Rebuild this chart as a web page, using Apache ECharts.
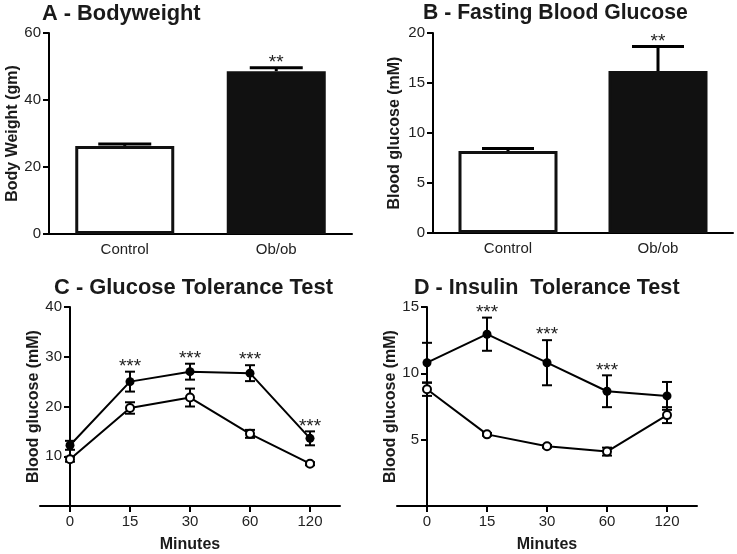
<!DOCTYPE html>
<html>
<head>
<meta charset="utf-8">
<script src="https://cdn.jsdelivr.net/npm/echarts@6/dist/echarts.min.js"></script>
<style>
html,body{margin:0;padding:0;background:#fff;}
#chart{width:737px;height:554px;}
</style>
</head>
<body>
<div id="chart"></div>
<script>
// ---- data ----
const barCategories = ['Control', 'Ob/ob'];
const bodyweightMean = [26.3, 48.6];
const bodyweightSem = [0.6, 1.0];
const bodyweightSignif = ['', '**'];
const fastingMean = [8.2, 16.2];
const fastingSem = [0.25, 2.45];
const fastingSignif = ['', '**'];

const minuteLabels = ['0', '15', '30', '60', '120'];
const gttObMean = [12.2, 25.0, 27.0, 26.7, 13.6];
const gttObSem = [0.9, 2.0, 1.6, 1.6, 1.4];
const gttCtrlMean = [9.4, 19.7, 21.8, 14.5, 8.5];
const gttCtrlSem = [0.5, 1.15, 1.8, 0.8, 0.3];
const gttSignif = ['', '***', '***', '***', '***'];

const ittObMean = [10.8, 12.95, 10.8, 8.65, 8.3];
const ittObSem = [1.5, 1.25, 1.7, 1.2, 1.05];
const ittCtrlMean = [8.8, 5.4, 4.5, 4.1, 6.85];
const ittCtrlSem = [0.5, 0.1, 0.1, 0.3, 0.6];
const ittSignif = ['', '***', '***', '***', ''];

const yTicksA = {min: 0, max: 60, interval: 20};
const yTicksB = {min: 0, max: 20, interval: 5};
const yTicksC = {min: 0, max: 40, interval: 10};
const yTicksD = {min: 0, max: 15, interval: 5};

// ---- styling ----
const F = '"Liberation Sans", Arial, Helvetica, sans-serif';
const TXT = '#222';

function titleObj(text, left, top, size) {
  return {text, left, top, padding: 0,
    textStyle: {fontFamily: F, fontSize: size, fontWeight: 'bold', color: '#1a1a1a'}};
}

function yAxisObj(gridIndex, ticks, name, gap, hideZero, offset) {
  return {
    type: 'value', gridIndex, min: ticks.min, max: ticks.max, interval: ticks.interval,
    offset: offset || 0,
    name, nameLocation: 'middle', nameGap: gap, nameRotate: 90,
    nameTextStyle: {fontFamily: F, fontSize: 16, fontWeight: 'bold', color: '#1a1a1a'},
    axisLine: {show: true, onZero: false, lineStyle: {color: '#000', width: 2}},
    axisTick: {show: true, inside: false, length: 6, lineStyle: {color: '#000', width: 2}},
    splitLine: {show: false},
    axisLabel: {fontFamily: F, fontSize: 15, color: TXT, margin: 8,
      formatter: v => (hideZero && v === 0) ? '' : String(v)}
  };
}

function catXAxis(gridIndex) {
  return {
    type: 'category', gridIndex, data: barCategories,
    axisLine: {lineStyle: {color: '#000', width: 2}},
    axisTick: {show: false},
    axisLabel: {fontFamily: F, fontSize: 15, color: TXT, margin: 8}
  };
}

function minuteXAxis(gridIndex) {
  const idx = minuteLabels.map((_, i) => i);
  return {
    type: 'value', gridIndex, min: -0.5, max: 4.5,
    name: 'Minutes', nameLocation: 'middle', nameGap: 31,
    nameTextStyle: {fontFamily: F, fontSize: 16, fontWeight: 'bold', color: '#1a1a1a'},
    axisLine: {onZero: false, lineStyle: {color: '#000', width: 2}},
    axisTick: {show: true, length: 6, customValues: idx, lineStyle: {color: '#000', width: 2}},
    splitLine: {show: false},
    axisLabel: {fontFamily: F, fontSize: 15, color: TXT, margin: 8, customValues: idx,
      formatter: v => minuteLabels[Math.round(v)]}
  };
}

function errSeries(xi, yi, means, sems, signif, opts) {
  return {
    type: 'custom', xAxisIndex: xi, yAxisIndex: yi, z: opts.z || 3,
    data: means.map((m, i) => [i, m, sems[i]]),
    renderItem: function (params, api) {
      const i = api.value(0), m = api.value(1), s = api.value(2);
      const top = api.coord([i, m + s]);
      const bot = api.coord([i, opts.upOnly ? m : m - s]);
      const hw = opts.capW / 2;
      const ls = {stroke: '#000', lineWidth: opts.lw};
      const children = [
        {type: 'line', shape: {x1: top[0], y1: top[1], x2: bot[0], y2: bot[1]}, style: ls},
        {type: 'line', shape: {x1: top[0] - hw, y1: top[1], x2: top[0] + hw, y2: top[1]}, style: ls}
      ];
      if (!opts.upOnly) {
        children.push({type: 'line', shape: {x1: bot[0] - hw, y1: bot[1], x2: bot[0] + hw, y2: bot[1]}, style: ls});
      }
      const t = signif[params.dataIndex];
      if (t) {
        children.push({type: 'text', style: {text: t, x: top[0], y: top[1] - 5,
          align: 'center', verticalAlign: 'middle', fontFamily: F, fontSize: 19, fill: TXT}});
      }
      return {type: 'group', children};
    }
  };
}

function lineSeries(xi, yi, means, filled, z) {
  return {
    type: 'line', xAxisIndex: xi, yAxisIndex: yi, z: z,
    data: means.map((m, i) => [i, m]),
    symbol: 'circle', symbolSize: filled ? 9 : 8,
    lineStyle: {color: '#000', width: 2},
    itemStyle: {color: filled ? '#000' : '#fff', borderColor: '#000', borderWidth: filled ? 0 : 2, opacity: 1},
    animation: false
  };
}

const option = {
  animation: false,
  backgroundColor: '#fff',
  title: [
    titleObj('A - Bodyweight', 42, 3, 21.8),
    titleObj('B - Fasting Blood Glucose', 423, 3, 21.2),
    titleObj('C - Glucose Tolerance Test', 54, 277, 21.9),
    titleObj('D - Insulin  Tolerance Test', 414, 277, 21.6)
  ],
  grid: [
    {left: 49, top: 33, width: 303, height: 201},
    {left: 433, top: 33, width: 300, height: 200},
    {left: 40, top: 307, width: 300, height: 200},
    {left: 397, top: 307, width: 300, height: 200}
  ],
  xAxis: [catXAxis(0), catXAxis(1), minuteXAxis(2), minuteXAxis(3)],
  yAxis: [
    yAxisObj(0, yTicksA, 'Body Weight (gm)', 28, false, 0),
    yAxisObj(1, yTicksB, 'Blood glucose (mM)', 30, false, 0),
    yAxisObj(2, yTicksC, 'Blood glucose (mM)', 27, true, -30),
    yAxisObj(3, yTicksD, 'Blood glucose (mM)', 26, true, -30)
  ],
  series: [
    {type: 'bar', xAxisIndex: 0, yAxisIndex: 0, barWidth: 99,
     data: bodyweightMean.map((v, i) => ({value: v, itemStyle: {color: i === 0 ? '#fff' : '#111'}})),
     itemStyle: {borderColor: '#111', borderWidth: 3}},
    errSeries(0, 0, bodyweightMean, bodyweightSem, bodyweightSignif, {upOnly: true, capW: 53, lw: 3}),
    {type: 'bar', xAxisIndex: 1, yAxisIndex: 1, barWidth: 99,
     data: fastingMean.map((v, i) => ({value: v, itemStyle: {color: i === 0 ? '#fff' : '#111'}})),
     itemStyle: {borderColor: '#111', borderWidth: 3}},
    errSeries(1, 1, fastingMean, fastingSem, fastingSignif, {upOnly: true, capW: 52, lw: 3}),

    errSeries(2, 2, gttCtrlMean, gttCtrlSem, ['', '', '', '', ''], {upOnly: false, capW: 10, lw: 2, z: 2}),
    lineSeries(2, 2, gttCtrlMean, false, 3),
    errSeries(2, 2, gttObMean, gttObSem, gttSignif, {upOnly: false, capW: 10, lw: 2, z: 4}),
    lineSeries(2, 2, gttObMean, true, 5),

    errSeries(3, 3, ittCtrlMean, ittCtrlSem, ['', '', '', '', ''], {upOnly: false, capW: 10, lw: 2, z: 2}),
    lineSeries(3, 3, ittCtrlMean, false, 3),
    errSeries(3, 3, ittObMean, ittObSem, ittSignif, {upOnly: false, capW: 10, lw: 2, z: 4}),
    lineSeries(3, 3, ittObMean, true, 5)
  ]
};

const chart = echarts.init(document.getElementById('chart'), null, {renderer: 'canvas'});
chart.setOption(option);
</script>
</body>
</html>
